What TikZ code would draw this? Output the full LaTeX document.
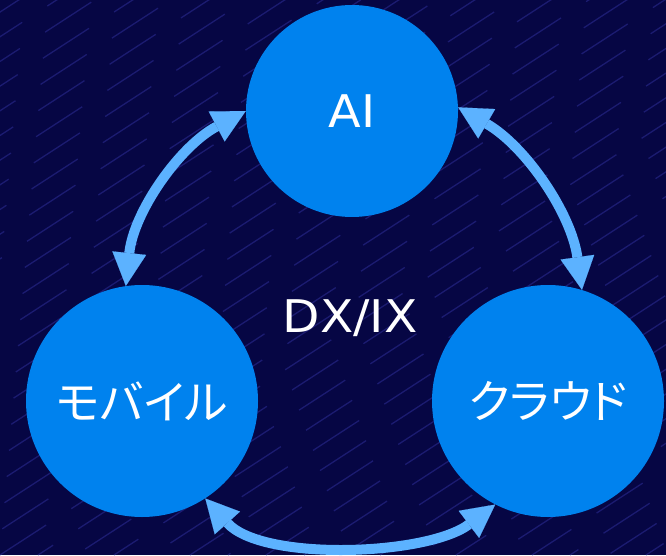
\documentclass[tikz,border=0pt]{standalone}
\usepackage{fontspec}
\newfontfamily\latinf{DejaVu Sans}
\newfontfamily\jpf[RawFeature=+palt]{Noto Sans CJK JP}
\usetikzlibrary{arrows.meta}
\definecolor{bgnavy}{RGB}{6,6,68}
\definecolor{streak}{RGB}{45,45,150}
\definecolor{circblue}{RGB}{0,130,238}
\definecolor{arrblue}{RGB}{92,178,255}
\begin{document}
\begin{tikzpicture}[x=1pt,y=1pt,
  hub/.style={circle,fill=circblue,draw=none,text=white,inner sep=0pt},
  lat/.style={font=\latinf\fontsize{45}{50}\selectfont},
  jp/.style={font=\jpf\fontsize{46}{52}\selectfont},
  link/.style={draw=arrblue,line width=10pt,
    {Triangle[length=33pt,width=34pt,line width=0.1pt]}-{Triangle[length=33pt,width=34pt,line width=0.1pt]}}]
\useasboundingbox (0,0) rectangle (666,555);
\fill[bgnavy] (0,0) rectangle (666,555);
\begin{scope}
  \clip (0,0) rectangle (666,555);
  \foreach \i [evaluate=\i as \ph using {mod(abs(\i)*37,85)}] in {-24,...,18} {
    \draw[streak, line width=1.3pt, opacity=0.55, dash pattern=on 55pt off 30pt, dash phase=\ph pt]
      (\i*38, 0) -- ++(33:1400);
  }
\end{scope}

\node[hub, minimum size=212pt] (ai)  at (352,444) {};
\node[hub, minimum size=232pt] (mob) at (142,154) {};
\node[hub, minimum size=232pt] (cld) at (548,154) {};

\node[lat, text=white, xscale=1.06] (ait) at (ai.center) {AI};
\node[jp, text=white] (mobt) at (mob.center) {モバイル};
\node[jp, text=white] (cldt) at (cld.center) {クラウド};
\node[lat, text=white, xscale=1.08] (dx) at (350,237) {DX/IX};

\draw[link] (mob.98) to[out=84,in=208,looseness=0.9] (ai.180);
\draw[link] (ai.2) to[out=-30,in=98,looseness=0.9] (cld.73);
\draw[link] (mob.-57) to[out=-48,in=217,looseness=0.75] (cld.-117);
\end{tikzpicture}
\end{document}
